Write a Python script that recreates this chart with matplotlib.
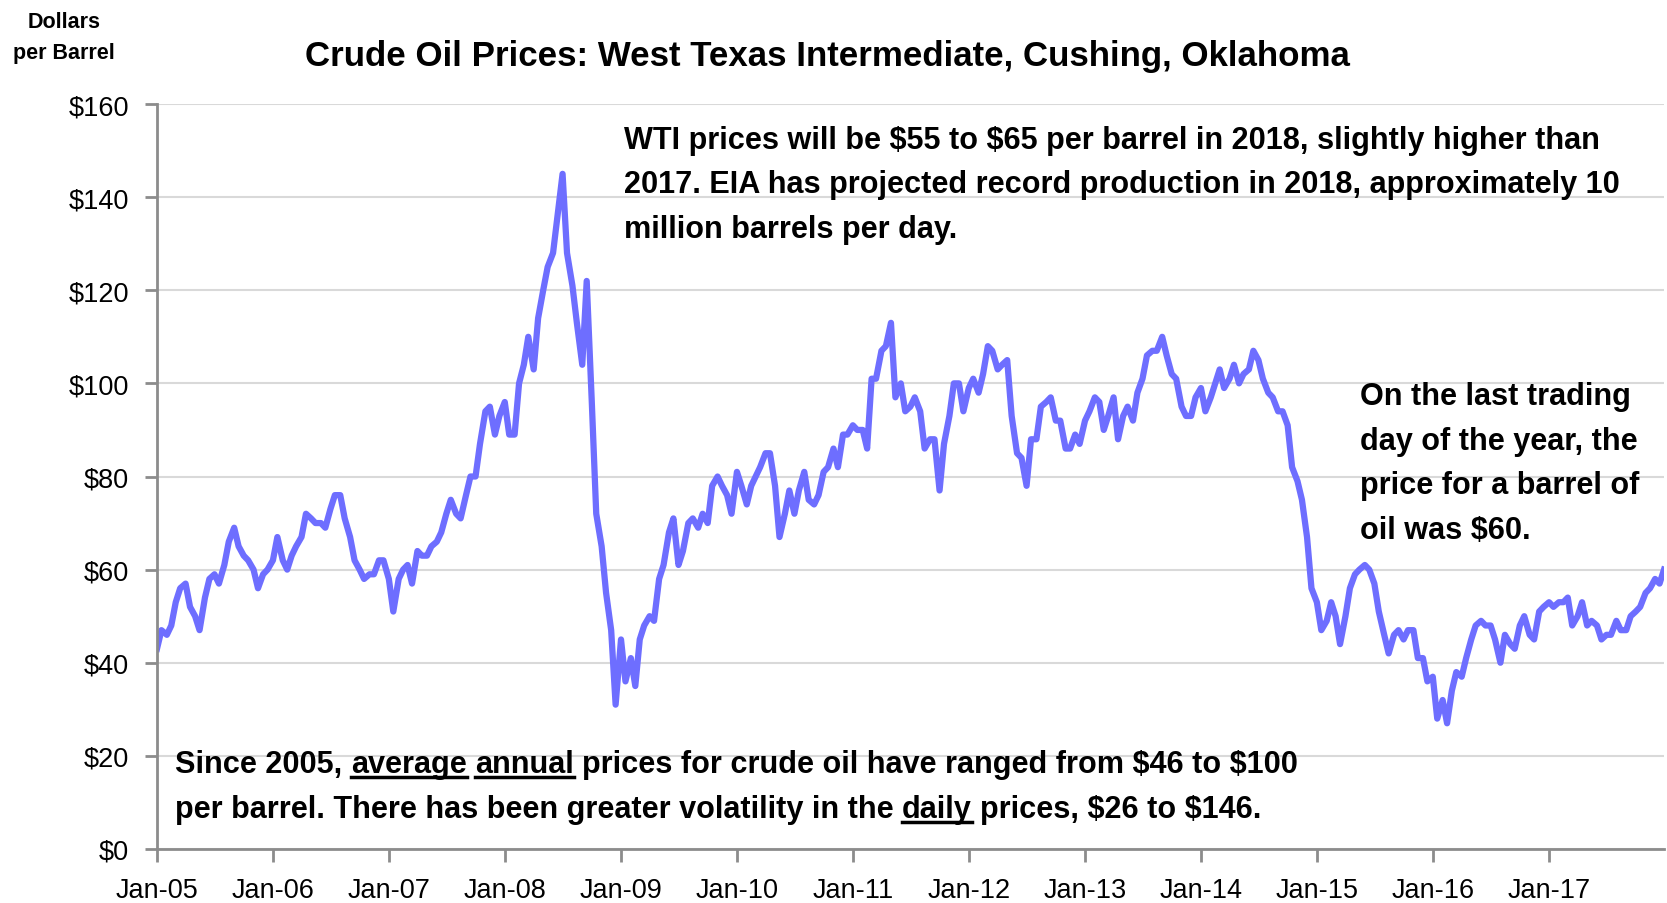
import numpy as np
import pandas as pd
import matplotlib
matplotlib.use('Agg')
import matplotlib.pyplot as plt
import matplotlib.dates as mdates
from matplotlib.lines import Line2D

plt.rcParams['font.family'] = ['Liberation Sans', 'DejaVu Sans']
plt.rcParams['text.parse_math'] = False

# WTI spot price, dollars per barrel (1st and 16th of each month)
p2005 = [43, 47, 46, 48, 53, 56, 57, 52, 50, 47, 54, 58, 59, 57, 61, 66, 69, 65, 63, 62, 60, 56, 59, 60]
p2006 = [62, 67, 62, 60, 63, 65, 67, 72, 71, 70, 70, 69, 73, 76, 76, 71, 67, 62, 60, 58, 59, 59, 62, 62]
p2007 = [58, 51, 58, 60, 61, 57, 64, 63, 63, 65, 66, 68, 72, 75, 72, 71, 76, 80, 80, 87, 94, 95, 89, 93]
p2008 = [96, 89, 89, 100, 104, 110, 103, 114, 120, 125, 128, 136, 145, 128, 121, 113, 104, 122, 96, 72, 65, 55, 47, 31]
p2009 = [45, 36, 41, 35, 45, 48, 50, 49, 58, 61, 68, 71, 61, 64, 70, 71, 69, 72, 70, 78, 80, 78, 76, 72]
p2010 = [81, 78, 74, 78, 80, 82, 85, 85, 78, 67, 72, 77, 72, 77, 81, 75, 74, 76, 81, 82, 86, 82, 89, 89]
p2011 = [91, 90, 90, 86, 101, 101, 107, 108, 113, 97, 100, 94, 95, 97, 94, 86, 88, 88, 77, 87, 93, 100, 100, 94]
p2012 = [99, 101, 98, 102, 108, 107, 103, 104, 105, 93, 85, 84, 78, 88, 88, 95, 96, 97, 92, 92, 86, 86, 89, 87]
p2013 = [92, 94, 97, 96, 90, 93, 97, 88, 93, 95, 92, 98, 101, 106, 107, 107, 110, 106, 102, 101, 95, 93, 93, 97]
p2014 = [99, 94, 97, 100, 103, 99, 101, 104, 100, 102, 103, 107, 105, 101, 98, 97, 94, 94, 91, 82, 79, 75, 67, 56]
p2015 = [53, 47, 49, 53, 50, 44, 50, 56, 59, 60, 61, 60, 57, 51, 46, 42, 46, 47, 45, 47, 47, 41, 41, 36]
p2016 = [37, 28, 32, 27, 34, 38, 37, 41, 45, 48, 49, 48, 48, 45, 40, 46, 44, 43, 48, 50, 46, 45, 51, 52]
p2017 = [53, 52, 53, 53, 54, 48, 50, 53, 48, 49, 48, 45, 46, 46, 49, 47, 47, 50, 51, 52, 55, 56, 58, 57]
last_day = '2017-12-29'
last_price = 60

prices = (p2005 + p2006 + p2007 + p2008 + p2009 + p2010 + p2011 + p2012
          + p2013 + p2014 + p2015 + p2016 + p2017)
dates = pd.date_range('2005-01-01', periods=len(prices), freq='SMS')
dates = dates.append(pd.DatetimeIndex([last_day]))
prices = prices + [last_price]

year_ticks = pd.date_range('2005-01-01', '2017-01-01', freq='YS')
y_ticks = np.arange(0, 161, 20)

title = 'Crude Oil Prices: West Texas Intermediate, Cushing, Oklahoma'
note_top = ['WTI prices will be $55 to $65 per barrel in 2018, slightly higher than',
            '2017. EIA has projected record production in 2018, approximately 10',
            'million barrels per day.']
note_right = ['On the last trading', 'day of the year, the', 'price for a barrel of', 'oil was $60.']
# (text, underlined)
note_bottom = [[('Since 2005,', False), ('average', True), ('annual', True),
                ('prices for crude oil have ranged from $46 to $100', False)],
               [('per barrel. There has been greater volatility in the', False), ('daily', True),
                ('prices, $26 to $146.', False)]]

W, H = 1667, 904
fig = plt.figure(figsize=(W / 100, H / 100), dpi=100)
ax = fig.add_axes([157 / W, 1 - 850 / H, (1664 - 157) / W, (850 - 105) / H])

ax.plot(dates, prices, color='#6E6EFF', lw=4.5, solid_joinstyle='round')

ax.set_xlim(pd.Timestamp('2005-01-01'), pd.Timestamp('2017-12-29'))
ax.set_ylim(0, 160)
ax.set_yticks(y_ticks)
ax.set_yticklabels(['$%d' % v for v in y_ticks])
ax.set_xticks(year_ticks)
ax.xaxis.set_major_formatter(mdates.DateFormatter('Jan-%y'))
ax.grid(axis='y', color='#D9D9D9', lw=1.5)
ax.set_axisbelow(True)
for s in ['top', 'right']:
    ax.spines[s].set_visible(False)
for s in ['left', 'bottom']:
    ax.spines[s].set_color('#8C8C8C')
    ax.spines[s].set_linewidth(2)
ax.tick_params(axis='both', colors='#8C8C8C', width=2, length=9, labelcolor='black')
ax.tick_params(axis='y', labelsize=19.5, pad=11)
ax.tick_params(axis='x', labelsize=19.5, pad=11)

renderer = fig.canvas.get_renderer()


def text_width(s, size, weight='bold'):
    t = fig.text(0, 0, s, fontsize=size, fontweight=weight)
    w = t.get_window_extent(renderer).width
    t.remove()
    return w


def fit_size(s, target):
    # font size that gives the text the same pixel width as in the reference
    return 20 * target / text_width(s, 20)


def put(x, y, s, size, **kw):
    # x, y in pixels from the top-left corner, y is the baseline
    return fig.text(x / W, 1 - y / H, s, fontsize=size, fontweight='bold',
                    va='baseline', **kw)


size = fit_size(title, 1045)
put(827, 66, title, size, ha='center')

put(64, 28, 'Dollars', 15.5, ha='center')
put(64, 59, 'per Barrel', 15.5, ha='center')

size = fit_size(note_top[0], 976)
for i, line in enumerate(note_top):
    put(624, 149 + 44.5 * i, line, size)

size = fit_size(note_right[2], 279)
for i, line in enumerate(note_right):
    put(1360, 405 + 44.7 * i, line, size)

size = fit_size(' '.join(p for p, u in note_bottom[0]), 1122)
space = text_width('x x', size) - text_width('xx', size)
for i, parts in enumerate(note_bottom):
    x = 175
    y = 773 + 45 * i
    for s, under in parts:
        bb = put(x, y, s, size).get_window_extent(renderer)
        if under:
            yy = 1 - (y + 5) / H
            fig.add_artist(Line2D([bb.x0 / W, bb.x1 / W], [yy, yy], color='black', lw=2.5))
        x = bb.x1 + space

fig.savefig('out.png', dpi=100)
